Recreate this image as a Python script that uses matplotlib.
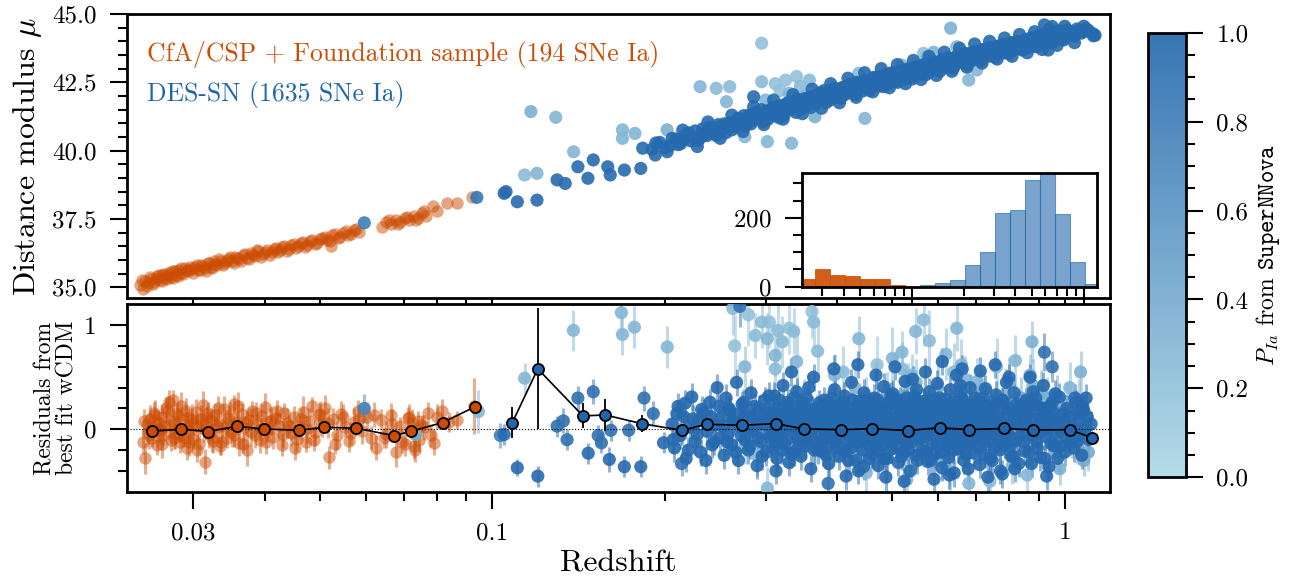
import numpy as np
import matplotlib
matplotlib.use("Agg")
import matplotlib.pyplot as plt
from matplotlib.colors import LinearSegmentedColormap, Normalize
from matplotlib.ticker import FixedLocator, MultipleLocator, FormatStrFormatter, FuncFormatter, NullFormatter

plt.rcParams['font.family'] = 'serif'
plt.rcParams['font.serif'] = ['cmr10']
plt.rcParams['mathtext.fontset'] = 'cm'
plt.rcParams['axes.unicode_minus'] = False
plt.rcParams['axes.formatter.use_mathtext'] = True

ORANGE = '#cc4c02'
BLUE = '#2166ac'
cmap = LinearSegmentedColormap.from_list('pia', ['#add8e6', BLUE])
norm = Normalize(0, 1)

# ---------------- CfA/CSP + Foundation (low-z) ----------------
# residual panel
cfa_z = [0.0245, 0.0247, 0.0249, 0.0250, 0.0252, 0.0254, 0.0255, 0.0257, 0.0259, 0.0260,
         0.0262, 0.0264, 0.0266, 0.0268, 0.0270, 0.0272, 0.0274, 0.0276, 0.0277, 0.0279,
         0.0281, 0.0283, 0.0284, 0.0286, 0.0288, 0.0290, 0.0292, 0.0294, 0.0296, 0.0298,
         0.0300, 0.0303, 0.0305, 0.0307, 0.0310, 0.0312, 0.0315, 0.0317, 0.0320, 0.0322,
         0.0325, 0.0328, 0.0331, 0.0334, 0.0337, 0.0340, 0.0344, 0.0347, 0.0350, 0.0354,
         0.0357, 0.0361, 0.0365, 0.0368, 0.0372, 0.0376, 0.0380, 0.0384, 0.0388, 0.0392,
         0.0396, 0.0400, 0.0404, 0.0408, 0.0413, 0.0418, 0.0423, 0.0428, 0.0433, 0.0438,
         0.0444, 0.0449, 0.0455, 0.0460, 0.0466, 0.0472, 0.0478, 0.0484, 0.0490, 0.0497,
         0.0503, 0.0510, 0.0518, 0.0527, 0.0535, 0.0544, 0.0553, 0.0562, 0.0572, 0.0582,
         0.0592, 0.0603, 0.0614, 0.0626, 0.0638, 0.0651, 0.0664, 0.0677, 0.0690, 0.0704,
         0.0712, 0.0722, 0.0733, 0.0745, 0.0752, 0.0770, 0.0790, 0.0815, 0.0840, 0.0868,
         0.0930,
         0.0246, 0.0251, 0.0256, 0.0261, 0.0265, 0.0269, 0.0273, 0.0278, 0.0282, 0.0287,
         0.0291, 0.0295, 0.0299, 0.0304, 0.0309, 0.0313, 0.0318, 0.0323, 0.0327, 0.0332,
         0.0336, 0.0342, 0.0348, 0.0353, 0.0359, 0.0366, 0.0373, 0.0379, 0.0386, 0.0394,
         0.0402, 0.0410, 0.0420, 0.0430, 0.0441, 0.0452, 0.0463, 0.0475, 0.0487, 0.0500,
         0.0515, 0.0531, 0.0548, 0.0566, 0.0585, 0.0620, 0.0645, 0.0668, 0.0695, 0.0716,
         0.0728, 0.0740, 0.0760, 0.0780, 0.0800]
cfa_res = [-0.12, -0.28, 0.05, -0.03, 0.10, -0.08, 0.02, 0.14, -0.15, 0.07,
           -0.01, 0.12, -0.06, 0.03, 0.18, 0.26, -0.10, 0.08, 0.28, -0.04,
           0.15, 0.01, -0.12, 0.22, -0.07, 0.05, -0.18, 0.11, -0.02, 0.09,
           -0.09, 0.17, 0.03, -0.14, 0.06, 0.23, -0.31, 0.12, -0.05, 0.08,
           -0.11, 0.14, 0.02, -0.16, 0.04, 0.19, -0.08, 0.10, -0.03, 0.24,
           0.07, -0.13, 0.15, 0.01, -0.20, 0.09, 0.18, -0.06, 0.05, -0.10,
           0.13, 0.21, -0.02, 0.08, -0.07, 0.11, 0.03, -0.15, 0.16, 0.06,
           -0.04, 0.12, -0.09, 0.02, 0.17, -0.12, 0.08, 0.22, -0.03, 0.14,
           0.05, 0.20, -0.27, 0.10, -0.06, 0.15, 0.02, -0.11, 0.07, 0.18,
           -0.02, 0.12, -0.08, -0.18, 0.09, -0.05, 0.14, -0.22, 0.03, -0.14,
           0.11, 0.06, -0.20, -0.10, 0.04, 0.16, -0.13, 0.18, 0.07, 0.09,
           0.22,
           0.08, -0.06, 0.16, 0.00, -0.14, 0.20, 0.04, -0.08, 0.13, -0.02,
           0.18, -0.12, 0.06, -0.20, 0.10, 0.00, 0.16, -0.08, 0.04, 0.20,
           -0.12, 0.02, 0.14, -0.06, 0.22, -0.14, 0.06, -0.03, 0.16, 0.00,
           -0.12, 0.08, 0.18, -0.05, 0.03, -0.18, 0.10, 0.00, -0.10, 0.15,
           0.06, -0.14, 0.12, -0.04, 0.10, 0.14, -0.08, 0.05, -0.12, 0.12,
           -0.16, 0.08, 0.02, -0.06, 0.12]
cfa_err = [0.12, 0.15, 0.10, 0.11, 0.13, 0.09, 0.12, 0.14, 0.10, 0.11,
           0.13, 0.12, 0.09, 0.10, 0.14, 0.12, 0.11, 0.13, 0.10, 0.15,
           0.09, 0.12, 0.11, 0.14, 0.10, 0.13, 0.12, 0.09, 0.11, 0.15,
           0.10, 0.12, 0.13, 0.11, 0.09, 0.14, 0.12, 0.10, 0.13, 0.11,
           0.12, 0.10, 0.14, 0.09, 0.11, 0.13, 0.10, 0.12, 0.14, 0.09,
           0.11, 0.13, 0.10, 0.12, 0.15, 0.11, 0.09, 0.12, 0.10, 0.13,
           0.11, 0.14, 0.10, 0.12, 0.12, 0.10, 0.13, 0.11, 0.09, 0.14,
           0.12, 0.10, 0.13, 0.11, 0.15, 0.10, 0.12, 0.09, 0.13, 0.11,
           0.12, 0.13, 0.11, 0.10, 0.14, 0.12, 0.09, 0.11, 0.13, 0.10,
           0.12, 0.14, 0.11, 0.12, 0.10, 0.13, 0.11, 0.14, 0.09, 0.12,
           0.10, 0.13, 0.11, 0.12, 0.10, 0.10, 0.12, 0.11, 0.10, 0.09,
           0.27,
           0.11, 0.13, 0.10, 0.12, 0.14, 0.10, 0.12, 0.11, 0.13, 0.09,
           0.12, 0.14, 0.10, 0.11, 0.13, 0.12, 0.10, 0.14, 0.11, 0.12,
           0.13, 0.10, 0.12, 0.11, 0.14, 0.09, 0.12, 0.13, 0.10, 0.11,
           0.12, 0.14, 0.10, 0.13, 0.11, 0.12, 0.10, 0.13, 0.11, 0.12,
           0.14, 0.10, 0.12, 0.11, 0.13, 0.12, 0.10, 0.14, 0.11, 0.12,
           0.13, 0.10, 0.12, 0.11, 0.12]

# Hubble diagram panel
cfa_z_top = [0.0242, 0.0245, 0.0247, 0.0250, 0.0253, 0.0256, 0.0259, 0.0262, 0.0265, 0.0268,
             0.0271, 0.0274, 0.0277, 0.0280, 0.0283, 0.0286, 0.0290, 0.0294, 0.0298, 0.0302,
             0.0306, 0.0310, 0.0314, 0.0318, 0.0322, 0.0326, 0.0330, 0.0335, 0.0340, 0.0345,
             0.0350, 0.0355, 0.0360, 0.0366, 0.0372, 0.0378, 0.0384, 0.0390, 0.0397, 0.0404,
             0.0411, 0.0418, 0.0425, 0.0433, 0.0441, 0.0449, 0.0457, 0.0466, 0.0475, 0.0484,
             0.0494, 0.0504, 0.0514, 0.0525, 0.0536, 0.0548, 0.0560, 0.0572, 0.0585, 0.0640,
             0.0652, 0.0665, 0.0678, 0.0690, 0.0703, 0.0716, 0.0728, 0.0740, 0.0752, 0.0765,
             0.0788, 0.0800, 0.0832, 0.0867, 0.0919, 0.0522,
             0.0244, 0.0249, 0.0252, 0.0255, 0.0258, 0.0261, 0.0264, 0.0267, 0.0270, 0.0273,
             0.0276, 0.0279, 0.0282, 0.0285, 0.0288, 0.0292, 0.0296, 0.0300, 0.0304, 0.0308,
             0.0312, 0.0316, 0.0320, 0.0324, 0.0328, 0.0333, 0.0338, 0.0343, 0.0348, 0.0353,
             0.0358, 0.0363, 0.0369, 0.0375, 0.0381, 0.0387, 0.0394, 0.0401, 0.0408, 0.0415,
             0.0422, 0.0429, 0.0437, 0.0445, 0.0453, 0.0462, 0.0471, 0.0480, 0.0489, 0.0499,
             0.0509, 0.0520, 0.0531, 0.0542, 0.0554, 0.0566, 0.0578, 0.0660, 0.0684, 0.0710,
             0.0735, 0.0760]
cfa_mu_top = [35.10, 34.95, 35.25, 35.15, 35.30, 35.20, 35.40, 35.28, 35.45, 35.35,
              35.50, 35.38, 35.60, 35.45, 35.62, 35.52, 35.70, 35.58, 35.66, 35.75,
              35.62, 35.80, 35.70, 35.88, 35.76, 35.95, 35.82, 35.98, 35.90, 36.05,
              35.95, 36.12, 36.02, 36.18, 36.08, 36.25, 36.15, 36.32, 36.22, 36.38,
              36.28, 36.45, 36.35, 36.52, 36.42, 36.58, 36.50, 36.65, 36.55, 36.72,
              36.62, 36.80, 36.72, 36.90, 36.82, 37.00, 36.92, 37.10, 37.02, 37.20,
              37.38, 37.30, 37.48, 37.38, 37.55, 37.45, 37.62, 37.55, 37.72, 37.62,
              37.98, 37.80, 38.10, 38.10, 38.30, 36.50,
              35.28, 35.05, 35.38, 35.12, 35.30, 35.45, 35.22, 35.50, 35.30, 35.55,
              35.35, 35.58, 35.40, 35.70, 35.48, 35.62, 35.75, 35.52, 35.82, 35.65,
              35.78, 35.60, 35.90, 35.70, 35.85, 36.02, 35.80, 35.98, 36.10, 35.88,
              36.08, 35.95, 36.22, 36.05, 36.20, 36.35, 36.12, 36.30, 36.18, 36.42,
              36.30, 36.48, 36.32, 36.55, 36.45, 36.62, 36.48, 36.70, 36.58, 36.75,
              36.85, 36.70, 36.95, 36.85, 37.05, 36.95, 37.15, 37.45, 37.30, 37.58,
              37.45, 37.78]

# ---------------- DES-SN ----------------
# Hubble diagram panel: main band (high P_Ia)
des_band_z = [0.190, 0.196, 0.204, 0.209, 0.213, 0.218, 0.222, 0.226, 0.231, 0.235,
              0.239, 0.244, 0.248, 0.252, 0.256, 0.260, 0.265, 0.269, 0.273, 0.277,
              0.281, 0.285, 0.289, 0.293, 0.297, 0.301, 0.305, 0.309, 0.313, 0.317,
              0.321, 0.326, 0.330, 0.334, 0.339, 0.343, 0.347, 0.351, 0.356, 0.360,
              0.365, 0.369, 0.374, 0.378, 0.383, 0.387, 0.392, 0.396, 0.401, 0.406,
              0.411, 0.416, 0.421, 0.426, 0.431, 0.436, 0.441, 0.446, 0.451, 0.456,
              0.461, 0.467, 0.472, 0.477, 0.483, 0.488, 0.494, 0.499, 0.505, 0.511,
              0.517, 0.523, 0.529, 0.535, 0.541, 0.547, 0.553, 0.559, 0.565, 0.572,
              0.578, 0.585, 0.591, 0.598, 0.605, 0.611, 0.618, 0.625, 0.632, 0.639,
              0.646, 0.653, 0.661, 0.668, 0.675, 0.683, 0.690, 0.698, 0.706, 0.714,
              0.722, 0.730, 0.738, 0.746, 0.754, 0.763, 0.771, 0.780, 0.789, 0.798,
              0.807, 0.816, 0.825, 0.834, 0.843, 0.852, 0.862, 0.871, 0.881, 0.891,
              0.901, 0.911, 0.921, 0.931, 0.942, 0.952, 0.963, 0.974, 0.985, 0.996,
              1.010, 1.030, 1.050, 1.070, 1.090, 1.120,
              0.193, 0.200, 0.206, 0.211, 0.216, 0.220, 0.224, 0.229, 0.233, 0.237,
              0.241, 0.246, 0.250, 0.254, 0.258, 0.262, 0.267, 0.271, 0.275, 0.279,
              0.283, 0.287, 0.291, 0.295, 0.299, 0.303, 0.307, 0.311, 0.315, 0.319,
              0.323, 0.328, 0.332, 0.336, 0.341, 0.345, 0.349, 0.353, 0.358, 0.362,
              0.367, 0.371, 0.376, 0.380, 0.385, 0.389, 0.394, 0.398, 0.403, 0.408,
              0.413, 0.418, 0.423, 0.428, 0.433, 0.438, 0.443, 0.448, 0.453, 0.458,
              0.464, 0.469, 0.474, 0.480, 0.485, 0.491, 0.496, 0.502, 0.508, 0.514,
              0.520, 0.526, 0.532, 0.538, 0.544, 0.550, 0.556, 0.562, 0.568, 0.575,
              0.581, 0.588, 0.594, 0.601, 0.608, 0.614, 0.621, 0.628, 0.635, 0.642,
              0.650, 0.657, 0.664, 0.672, 0.679, 0.687, 0.694, 0.702, 0.710, 0.718,
              0.726, 0.734, 0.742, 0.750, 0.759, 0.767, 0.776, 0.784, 0.793, 0.802,
              0.811, 0.820, 0.829, 0.838, 0.848, 0.857, 0.866, 0.876, 0.886, 0.896,
              0.906, 0.916, 0.926, 0.937, 0.947, 0.958, 0.969, 0.980, 0.991, 1.000,
              1.020, 1.040, 1.060, 1.080, 1.100, 1.130,
              0.215, 0.228, 0.238, 0.250, 0.262, 0.274, 0.286, 0.298, 0.310, 0.322,
              0.335, 0.348, 0.362, 0.376, 0.390, 0.404, 0.418, 0.432, 0.447, 0.462,
              0.478, 0.494, 0.510, 0.527, 0.544, 0.561, 0.579, 0.597, 0.616, 0.635,
              0.655, 0.675, 0.696, 0.717, 0.739, 0.762, 0.785, 0.809, 0.834, 0.860,
              0.886, 0.913, 0.941, 0.970, 1.000, 1.040, 1.080]
des_band_mu = [40.05, 40.30, 40.18, 40.42, 40.25, 40.58, 40.36, 40.72, 40.48, 40.62,
               40.85, 40.70, 40.95, 40.78, 40.66, 41.02, 40.88, 41.18, 41.05, 40.92,
               41.30, 41.12, 41.40, 41.22, 41.05, 41.45, 41.30, 41.58, 41.38, 41.20,
               41.66, 41.48, 41.72, 41.55, 41.40, 41.82, 41.62, 41.90, 41.75, 41.58,
               42.00, 41.82, 42.12, 41.92, 41.76, 42.18, 42.00, 42.28, 42.08, 41.92,
               42.32, 42.15, 42.42, 42.22, 42.05, 42.48, 42.30, 42.55, 42.35, 42.20,
               42.62, 42.42, 42.70, 42.50, 42.34, 42.78, 42.58, 42.85, 42.66, 42.50,
               42.92, 42.72, 42.98, 42.80, 42.62, 43.05, 42.85, 43.10, 42.92, 42.78,
               43.18, 43.00, 43.25, 43.06, 42.90, 43.32, 43.12, 43.38, 43.18, 43.02,
               43.44, 43.25, 43.50, 43.32, 43.15, 43.56, 43.38, 43.62, 43.45, 43.30,
               43.70, 43.52, 43.76, 43.58, 43.42, 43.82, 43.65, 43.88, 43.70, 43.55,
               43.95, 43.78, 44.00, 43.82, 43.68, 44.05, 43.88, 44.12, 43.95, 43.80,
               44.20, 44.02, 44.28, 44.08, 43.94, 44.32, 44.15, 44.38, 44.20, 44.05,
               44.42, 44.25, 44.45, 44.30, 44.45, 44.28,
               40.28, 40.10, 40.45, 40.22, 40.40, 40.65, 40.50, 40.38, 40.80, 40.55,
               40.72, 40.55, 40.88, 40.98, 40.82, 40.76, 41.10, 40.95, 41.28, 41.10,
               40.98, 41.30, 41.22, 41.50, 41.25, 41.15, 41.50, 41.28, 41.62, 41.45,
               41.30, 41.75, 41.50, 41.68, 41.88, 41.50, 41.75, 41.62, 41.95, 41.80,
               41.70, 42.05, 41.85, 42.20, 41.98, 41.85, 42.25, 42.10, 41.95, 42.30,
               42.05, 42.38, 42.25, 42.12, 42.50, 42.35, 42.18, 42.55, 42.45, 42.30,
               42.68, 42.52, 42.36, 42.72, 42.60, 42.45, 42.82, 42.70, 42.55, 42.90,
               42.78, 42.62, 42.95, 42.88, 42.72, 43.05, 42.95, 42.80, 43.15, 43.05,
               42.88, 43.20, 43.12, 42.98, 43.28, 43.20, 43.05, 43.38, 43.28, 43.12,
               43.45, 43.35, 43.20, 43.55, 43.45, 43.28, 43.60, 43.52, 43.38, 43.68,
               43.60, 43.45, 43.75, 43.66, 43.52, 43.82, 43.74, 43.58, 43.90, 43.80,
               43.66, 43.96, 43.88, 43.72, 44.02, 43.94, 43.78, 44.08, 44.00, 43.85,
               44.14, 44.10, 43.92, 44.22, 44.15, 44.00, 44.28, 44.22, 44.08, 44.36,
               44.35, 44.18, 44.40, 44.36, 44.40, 44.22,
               40.75, 40.15, 41.05, 40.45, 41.30, 40.70, 41.60, 40.95, 41.85, 41.15,
               42.05, 41.35, 42.25, 41.55, 42.45, 41.75, 42.65, 41.95, 42.85, 42.15,
               43.00, 42.30, 43.15, 42.45, 43.30, 42.60, 43.45, 42.75, 43.60, 42.90,
               43.75, 43.05, 43.90, 43.20, 44.00, 43.35, 44.12, 43.45, 44.25, 43.58,
               44.35, 43.70, 44.45, 43.85, 44.55, 43.95, 44.55]
P_BAND = 0.97

# Hubble diagram panel: low-z DES and outliers
des_top_z = [0.0597, 0.0939, 0.1048, 0.1056, 0.1105, 0.1196, 0.1297, 0.1340, 0.1410, 0.1468,
             0.1500, 0.1590, 0.1606, 0.1700, 0.1816, 0.1830, 0.1925, 0.2019, 0.2860, 0.3958,
             0.9215, 0.9510, 1.0770, 1.1220, 0.9360, 0.1138, 0.1196, 0.1386, 0.1167, 0.1290,
             0.1687, 0.1687, 0.1774, 0.2019, 0.2306, 0.2460, 0.2597, 0.2564, 0.2954, 0.2954,
             0.3000, 0.3252, 0.3400, 0.3580, 0.3300, 0.3660, 0.3022, 0.3331, 0.2760, 0.4475,
             0.4366, 0.5667, 0.5195, 0.5400, 0.6320, 0.6475, 0.6797, 0.7020, 0.8910, 1.0250,
             0.3180, 0.3450, 0.3520, 0.3120, 0.5750, 0.5900]
des_top_mu = [37.36, 38.29, 38.44, 38.50, 38.13, 38.19, 38.93, 38.80, 39.41, 38.99,
              39.66, 39.41, 39.11, 39.29, 39.35, 40.09, 39.84, 39.96, 41.97, 41.94,
              44.60, 44.54, 44.41, 44.20, 43.68, 39.11, 39.17, 39.96, 41.43, 41.22,
              40.76, 40.45, 40.63, 40.76, 42.34, 42.28, 42.34, 41.79, 43.93, 42.52,
              41.85, 42.58, 42.71, 42.58, 42.10, 41.24, 40.33, 40.27, 40.51, 41.18,
              42.83, 43.56, 43.13, 42.95, 44.48, 43.80, 42.58, 42.95, 43.93, 44.29,
              42.20, 42.35, 42.00, 42.45, 43.45, 43.60]
des_top_p = [0.80, 0.85, 0.95, 0.95, 0.95, 0.95, 0.95, 0.95, 0.95, 0.95,
             0.95, 0.95, 0.95, 0.95, 0.95, 0.95, 0.95, 0.95, 0.95, 0.95,
             0.95, 0.95, 0.95, 0.95, 0.95, 0.25, 0.30, 0.30, 0.35, 0.30,
             0.30, 0.30, 0.30, 0.35, 0.30, 0.25, 0.25, 0.30, 0.20, 0.25,
             0.30, 0.20, 0.20, 0.25, 0.30, 0.35, 0.30, 0.30, 0.30, 0.30,
             0.25, 0.20, 0.25, 0.30, 0.35, 0.30, 0.30, 0.30, 0.30, 0.30,
             0.20, 0.25, 0.30, 0.20, 0.25, 0.30]

# residual panel: dense core (high P_Ia)
des_core_z = [0.206, 0.208, 0.211, 0.213, 0.216, 0.218, 0.221, 0.223, 0.226, 0.229,
              0.231, 0.234, 0.237, 0.240, 0.242, 0.245, 0.247, 0.250, 0.252, 0.254,
              0.256, 0.258, 0.260, 0.262, 0.264, 0.267, 0.269, 0.271, 0.273, 0.276,
              0.278, 0.280, 0.283, 0.285, 0.288, 0.290, 0.292, 0.295, 0.297, 0.299,
              0.301, 0.303, 0.305, 0.307, 0.309, 0.311, 0.312, 0.314, 0.316, 0.318,
              0.320, 0.322, 0.324, 0.326, 0.328, 0.330, 0.332, 0.334, 0.336, 0.338,
              0.340, 0.342, 0.344, 0.346, 0.348, 0.350, 0.352, 0.354, 0.356, 0.358,
              0.360, 0.362, 0.364, 0.366, 0.368, 0.370, 0.372, 0.374, 0.313, 0.333,
              0.357, 0.376, 0.378, 0.380, 0.382, 0.384, 0.387, 0.389, 0.391, 0.393,
              0.396, 0.398, 0.400, 0.403, 0.405, 0.407, 0.410, 0.412, 0.414, 0.417,
              0.419, 0.421, 0.424, 0.426, 0.429, 0.431, 0.433, 0.436, 0.438, 0.441,
              0.443, 0.446, 0.448, 0.451, 0.453, 0.456, 0.458, 0.395, 0.415, 0.435,
              0.445, 0.460, 0.462, 0.465, 0.467, 0.470, 0.472, 0.475, 0.477, 0.480,
              0.483, 0.485, 0.488, 0.490, 0.493, 0.496, 0.498, 0.501, 0.504, 0.506,
              0.509, 0.512, 0.515, 0.517, 0.520, 0.523, 0.526, 0.529, 0.531, 0.534,
              0.537, 0.540, 0.543, 0.546, 0.549, 0.552, 0.555, 0.558, 0.468, 0.487,
              0.505, 0.524, 0.542, 0.478, 0.513, 0.551, 0.561, 0.564, 0.567, 0.570,
              0.573, 0.576, 0.580, 0.583, 0.586, 0.589, 0.593, 0.596, 0.599, 0.603,
              0.606, 0.610, 0.613, 0.617, 0.620, 0.624, 0.627, 0.631, 0.634, 0.638,
              0.641, 0.645, 0.649, 0.652, 0.656, 0.660, 0.664, 0.667, 0.671, 0.675,
              0.679, 0.683, 0.686, 0.571, 0.591, 0.611, 0.629, 0.647, 0.662, 0.678,
              0.600, 0.640, 0.585, 0.655, 0.690, 0.694, 0.698, 0.702, 0.706, 0.710,
              0.715, 0.719, 0.723, 0.727, 0.732, 0.736, 0.740, 0.745, 0.749, 0.754,
              0.758, 0.763, 0.767, 0.772, 0.777, 0.781, 0.786, 0.791, 0.796, 0.801,
              0.806, 0.811, 0.816, 0.821, 0.826, 0.831, 0.836, 0.840, 0.712, 0.734,
              0.756, 0.778, 0.799, 0.818, 0.845, 0.851, 0.857, 0.863, 0.869, 0.875,
              0.881, 0.887, 0.893, 0.899, 0.906, 0.912, 0.918, 0.925, 0.931, 0.938,
              0.945, 0.951, 0.958, 0.965, 0.972, 0.979, 0.986, 0.993, 1.000, 1.008,
              1.015, 1.022, 0.870, 0.930, 1.030, 1.038, 1.046, 1.054, 1.062, 1.071,
              1.080, 1.090, 1.100, 1.112,
              0.207, 0.210, 0.214, 0.217, 0.220, 0.224, 0.228, 0.232, 0.236, 0.241,
              0.244, 0.249, 0.253, 0.257, 0.259, 0.263, 0.266, 0.270, 0.272, 0.275,
              0.279, 0.282, 0.284, 0.287, 0.291, 0.294, 0.296, 0.300, 0.302, 0.304,
              0.306, 0.308, 0.310, 0.313, 0.315, 0.317, 0.319, 0.321, 0.323, 0.325,
              0.327, 0.329, 0.331, 0.333, 0.335, 0.337, 0.339, 0.341, 0.343, 0.345,
              0.349, 0.353, 0.357, 0.361, 0.365, 0.369, 0.371, 0.373, 0.377, 0.379,
              0.381, 0.383, 0.386, 0.388, 0.390, 0.392, 0.394, 0.397, 0.399, 0.402,
              0.404, 0.406, 0.409, 0.411, 0.413, 0.416, 0.418, 0.420, 0.423, 0.425,
              0.428, 0.430, 0.432, 0.435, 0.437, 0.440, 0.444, 0.449, 0.452, 0.457,
              0.461, 0.464, 0.466, 0.469, 0.471, 0.474, 0.476, 0.479, 0.482, 0.484,
              0.487, 0.489, 0.492, 0.495, 0.497, 0.500, 0.503, 0.507, 0.510, 0.514,
              0.516, 0.519, 0.522, 0.525, 0.528, 0.530, 0.533, 0.536, 0.539, 0.542,
              0.545, 0.548, 0.550, 0.553, 0.556, 0.559, 0.562, 0.565, 0.568, 0.572,
              0.575, 0.578, 0.581, 0.584, 0.588, 0.591, 0.594, 0.598, 0.601, 0.604,
              0.608, 0.611, 0.615, 0.618, 0.622, 0.625, 0.629, 0.632, 0.636, 0.639,
              0.643, 0.647, 0.650, 0.654, 0.658, 0.661, 0.665, 0.669, 0.673, 0.677,
              0.681, 0.684, 0.688, 0.657, 0.692, 0.696, 0.700, 0.704, 0.708, 0.713,
              0.717, 0.721, 0.725, 0.730, 0.734, 0.738, 0.743, 0.747, 0.752, 0.756,
              0.761, 0.765, 0.770, 0.775, 0.779, 0.784, 0.788, 0.793, 0.798, 0.803,
              0.808, 0.813, 0.819, 0.824, 0.829, 0.838, 0.848, 0.854, 0.860, 0.866,
              0.872, 0.878, 0.884, 0.890, 0.896, 0.903, 0.909, 0.915, 0.922, 0.928,
              0.935, 0.941, 0.948, 0.955, 0.962, 0.969, 0.976, 0.983, 0.997, 1.012,
              1.034, 1.042, 1.050, 1.058, 1.066, 1.075, 1.085, 1.095]
des_core_res = [0.05, -0.18, 0.22, -0.06, 0.12, -0.28, 0.02, 0.31, -0.12, 0.08,
                -0.22, 0.16, -0.02, 0.26, -0.15, 0.04, 0.40, -0.08, 0.12, -0.25,
                0.30, -0.04, 0.18, -0.15, 0.07, 0.45, -0.30, 0.02, 0.24, -0.10,
                0.14, -0.20, 0.35, -0.02, 0.09, -0.35, 0.20, -0.12, 0.05, 0.28,
                -0.22, 0.11, -0.05, 0.15, -0.18, 0.32, 0.03, -0.28, 0.21, -0.07,
                0.10, 0.42, -0.14, 0.00, 0.26, -0.32, 0.08, 0.18, -0.22, 0.05,
                0.36, -0.10, 0.13, -0.26, 0.22, 0.02, -0.16, 0.30, -0.04, 0.11,
                -0.38, 0.19, 0.50, -0.12, 0.06, -0.20, 0.25, -0.02, -0.40, 0.55,
                0.40, 0.08, -0.22, 0.28, -0.05, 0.14, -0.33, 0.20, 0.02, -0.14,
                0.38, -0.08, 0.12, -0.26, 0.24, 0.05, -0.18, 0.32, -0.02, 0.16,
                -0.30, 0.09, 0.45, -0.12, 0.21, -0.06, 0.13, -0.40, 0.27, 0.01,
                -0.20, 0.35, -0.10, 0.18, 0.06, -0.28, 0.23, 0.58, -0.45, 0.62,
                -0.36, 0.10, -0.24, 0.30, -0.08, 0.17, -0.35, 0.04, 0.22, -0.15,
                0.41, -0.03, 0.13, -0.28, 0.26, 0.07, -0.19, 0.34, -0.11, 0.02,
                0.19, -0.32, 0.28, -0.06, 0.11, -0.22, 0.46, 0.05, -0.14, 0.24,
                -0.40, 0.15, -0.02, 0.31, -0.25, 0.09, 0.20, -0.09, 0.52, -0.46,
                0.60, -0.50, 0.48, -0.02, 0.00, 0.38, 0.14, -0.20, 0.27, -0.06,
                0.09, -0.31, 0.36, 0.01, -0.13, 0.21, -0.24, 0.12, 0.44, -0.04,
                0.18, -0.37, 0.06, 0.29, -0.16, 0.10, -0.27, 0.38, -0.01, 0.16,
                -0.42, 0.23, 0.03, -0.19, 0.32, -0.09, 0.12, -0.30, 0.25, 0.07,
                -0.14, 0.40, -0.05, 0.55, -0.48, 0.65, -0.44, 0.52, 0.58, -0.38,
                0.02, -0.08, 0.08, 0.05, 0.11, -0.23, 0.30, -0.07, 0.16, -0.34,
                0.04, 0.24, -0.12, 0.39, -0.02, 0.14, -0.28, 0.21, 0.06, -0.18,
                0.33, -0.09, 0.10, -0.40, 0.27, 0.01, -0.15, 0.45, -0.05, 0.19,
                -0.26, 0.08, 0.35, -0.11, 0.13, -0.33, 0.22, 0.03, 0.56, -0.46,
                0.62, -0.43, 0.50, -0.38, 0.09, -0.21, 0.28, -0.04, 0.15, -0.33,
                0.36, 0.02, -0.12, 0.22, -0.27, 0.12, 0.42, -0.07, 0.18, -0.36,
                0.06, 0.26, -0.16, 0.10, -0.28, 0.31, -0.02, 0.14, -0.22, 0.20,
                0.04, -0.12, 0.50, -0.45, 0.12, -0.18, 0.25, -0.06, 0.08, -0.25,
                0.18, 0.30, -0.10, 0.05,
                -0.10, 0.15, -0.02, 0.25, -0.20, 0.10, -0.05, 0.19, -0.30, 0.12,
                -0.12, 0.22, 0.03, -0.12, 0.20, 0.08, -0.22, 0.15, -0.06, 0.26,
                0.00, -0.16, 0.12, 0.22, -0.08, 0.06, -0.26, 0.16, 0.04, 0.32,
                -0.08, 0.10, 0.20, -0.14, 0.05, 0.28, -0.02, -0.20, 0.15, 0.06,
                -0.10, 0.22, 0.12, -0.24, 0.02, 0.30, -0.06, 0.18, -0.16, 0.08,
                0.25, -0.10, 0.14, 0.00, -0.20, 0.20, 0.10, -0.12, -0.12, 0.18,
                0.02, -0.25, 0.25, 0.08, -0.08, 0.30, 0.12, -0.18, 0.04, 0.20,
                -0.10, -0.02, 0.10, 0.26, -0.22, 0.06, 0.16, -0.06, -0.18, 0.28,
                0.00, 0.12, -0.30, 0.08, -0.12, 0.22, 0.14, -0.08, 0.28, -0.16,
                -0.05, 0.22, -0.15, 0.10, 0.28, -0.22, 0.14, -0.04, 0.06, -0.28,
                0.20, 0.02, 0.12, -0.12, 0.32, -0.06, 0.08, 0.24, -0.18, 0.04,
                0.16, -0.26, 0.26, -0.08, 0.12, 0.30, -0.20, 0.02, 0.18, -0.12,
                0.08, 0.14, -0.02, -0.30, 0.26, 0.10, -0.08, 0.16, 0.04, -0.22,
                0.24, -0.02, 0.12, -0.30, 0.28, 0.06, 0.18, -0.14, 0.02, 0.30,
                -0.22, 0.10, -0.06, 0.20, 0.04, -0.12, 0.14, -0.04, 0.26, -0.20,
                0.08, -0.10, 0.22, 0.12, -0.16, 0.30, -0.06, 0.16, -0.24, 0.02,
                0.22, -0.12, 0.10, 0.42, 0.20, -0.10, 0.06, 0.26, -0.18, 0.12,
                -0.04, 0.30, -0.24, 0.08, 0.18, -0.12, 0.02, -0.30, 0.24, 0.10,
                -0.06, 0.16, -0.20, 0.04, 0.28, -0.10, 0.12, -0.02, 0.20, -0.16,
                0.06, -0.26, 0.14, 0.24, -0.08, 0.02, -0.12, 0.18, 0.04, -0.22,
                0.26, -0.06, 0.10, 0.30, -0.18, 0.06, -0.02, 0.20, -0.28, 0.12,
                0.00, 0.22, -0.14, 0.16, 0.34, -0.04, 0.08, -0.16, 0.12, -0.08,
                0.02, 0.30, -0.12, 0.16, -0.04, 0.22, 0.00, 0.12]
P_CORE = 0.97
ERR_CORE = 0.13

# residual panel: low-z DES and outliers
des_res_z = [0.0597, 0.0733, 0.0945, 0.1032, 0.1048, 0.1105, 0.1200, 0.1297, 0.1330, 0.1350,
             0.1410, 0.1470, 0.1500, 0.1530, 0.1550, 0.1600, 0.1610, 0.1700, 0.1816, 0.1840,
             0.1730, 0.1910, 0.1990, 0.1138, 0.1385, 0.1687, 0.1770, 0.2020, 0.1680, 0.2630,
             0.2706, 0.2954, 0.3047, 0.2879, 0.3022, 0.3120, 0.3120, 0.3300, 0.3360, 0.3617,
             0.3640, 0.4366, 0.5195, 0.5667, 0.5490, 0.6475, 0.8767, 0.9215, 0.9510, 0.5400,
             0.7020, 0.3960, 0.2760, 0.3210, 0.8700, 1.0660, 0.3022, 0.6800, 0.2760, 0.3660,
             0.7020, 1.0500, 0.9600, 0.3860, 0.2140, 0.3900, 0.5320, 0.4500, 0.6100, 0.9900,
             1.0300, 1.0800, 0.9300, 0.8100, 0.7400, 0.2900, 0.3500, 0.4200, 1.1000, 1.0100,
             0.2650, 0.2800, 0.3150, 0.3400, 0.3700, 0.5000, 0.5800, 0.6200, 0.6600, 0.8200,
             0.4100, 0.4300, 0.4700, 0.4900, 0.5200, 0.5500, 0.6000, 0.6400, 0.6700, 0.7200,
             0.7600, 0.8000, 0.8400, 0.8800, 0.9100, 0.9700, 1.0200, 1.0600, 0.4500, 0.5300,
             0.6300, 0.7400, 0.8600, 0.9800, 1.0800]
des_res = [0.20, -0.05, 0.17, -0.06, -0.05, -0.37, -0.45, 0.03, 0.08, -0.10,
           0.30, -0.23, 0.36, -0.06, -0.13, -0.29, -0.01, -0.36, -0.36, 0.30,
           -0.01, 0.15, -0.13, 0.49, 0.95, 0.91, 0.98, 0.79, 1.12, 1.16,
           1.18, 1.03, 1.03, 0.90, 0.87, 0.71, 0.58, 0.97, 0.94, 1.13,
           1.03, 0.87, 0.74, 1.05, 0.94, 0.97, 0.84, 0.74, 0.60, 0.52,
           0.46, 0.52, 0.60, 0.84, 0.52, 0.55, -0.565, -0.52, -0.18, -0.17,
           -0.18, -0.18, -0.21, -0.52, -0.33, 0.19, 0.44, 0.30, -0.30, 0.05,
           -0.10, 0.12, 0.30, -0.35, 0.22, -0.25, 0.28, -0.15, -0.22, 0.25,
           0.80, 1.10, 0.95, 0.65, 0.75, 0.68, 0.85, 0.72, 0.62, 0.66,
           0.55, 0.40, 0.62, 0.35, 0.58, 0.45, 0.40, 0.55, 0.48, 0.38,
           0.60, 0.45, 0.30, 0.42, 0.35, 0.32, 0.40, 0.28, -0.42, -0.48,
           -0.40, -0.50, -0.44, -0.38, -0.30]
des_res_err = [0.14, 0.12, 0.21, 0.12, 0.10, 0.08, 0.10, 0.10, 0.12, 0.10,
               0.12, 0.10, 0.12, 0.10, 0.10, 0.12, 0.10, 0.10, 0.10, 0.12,
               0.10, 0.12, 0.10, 0.15, 0.20, 0.20, 0.20, 0.20, 0.20, 0.25,
               0.20, 0.25, 0.25, 0.22, 0.25, 0.20, 0.20, 0.25, 0.22, 0.25,
               0.25, 0.22, 0.20, 0.25, 0.22, 0.22, 0.20, 0.18, 0.15, 0.20,
               0.22, 0.20, 0.20, 0.25, 0.20, 0.20, 0.20, 0.20, 0.15, 0.15,
               0.15, 0.15, 0.15, 0.15, 0.12, 0.15, 0.20, 0.20, 0.18, 0.20,
               0.18, 0.20, 0.20, 0.18, 0.20, 0.20, 0.20, 0.20, 0.18, 0.20,
               0.30, 0.30, 0.30, 0.30, 0.30, 0.30, 0.30, 0.25, 0.25, 0.25,
               0.25, 0.22, 0.28, 0.20, 0.26, 0.22, 0.25, 0.28, 0.22, 0.20,
               0.28, 0.24, 0.20, 0.25, 0.22, 0.20, 0.25, 0.20, 0.18, 0.20,
               0.18, 0.20, 0.18, 0.16, 0.15]
des_res_p = [0.75, 0.40, 0.30, 0.80, 0.95, 0.95, 0.95, 0.90, 0.90, 0.90,
             0.90, 0.95, 0.90, 0.90, 0.90, 0.95, 0.90, 0.95, 0.95, 0.90,
             0.90, 0.90, 0.95, 0.30, 0.30, 0.30, 0.30, 0.30, 0.30, 0.25,
             0.90, 0.25, 0.20, 0.25, 0.30, 0.30, 0.25, 0.20, 0.25, 0.20,
             0.25, 0.30, 0.30, 0.25, 0.30, 0.30, 0.35, 0.90, 0.90, 0.30,
             0.30, 0.30, 0.30, 0.25, 0.35, 0.35, 0.30, 0.30, 0.30, 0.30,
             0.30, 0.35, 0.35, 0.90, 0.90, 0.30, 0.30, 0.30, 0.35, 0.35,
             0.40, 0.35, 0.30, 0.35, 0.30, 0.30, 0.30, 0.35, 0.40, 0.35,
             0.20, 0.20, 0.25, 0.30, 0.25, 0.30, 0.25, 0.30, 0.30, 0.30,
             0.25, 0.30, 0.20, 0.35, 0.25, 0.30, 0.35, 0.25, 0.30, 0.35,
             0.25, 0.30, 0.40, 0.30, 0.35, 0.40, 0.30, 0.40, 0.30, 0.25,
             0.30, 0.25, 0.30, 0.35, 0.40]

# binned residuals
cfa_bin_z = [0.0254, 0.0286, 0.0318, 0.0358, 0.0398, 0.0459, 0.0507, 0.0578, 0.0672, 0.0721, 0.0818, 0.0933]
cfa_bin_res = [-0.019, 0.000, -0.022, 0.028, 0.003, -0.010, 0.019, 0.010, -0.061, -0.019, 0.064, 0.217]
cfa_bin_err = [0.03, 0.03, 0.03, 0.03, 0.03, 0.03, 0.03, 0.03, 0.03, 0.03, 0.04, 0.05]
des_bin_z = [0.1083, 0.1200, 0.1439, 0.1574, 0.1823, 0.2140, 0.2371, 0.2724, 0.3127, 0.3500,
             0.4066, 0.4604, 0.5320, 0.6046, 0.6814, 0.7847, 0.8816, 1.020, 1.118]
des_bin_res = [0.064, 0.58, 0.128, 0.137, 0.054, -0.010, 0.048, 0.038, 0.054, 0.003,
               -0.004, 0.006, -0.013, 0.015, -0.004, 0.009, -0.007, -0.004, -0.083]
des_bin_err = [0.15, 0.58, 0.12, 0.15, 0.08, 0.03, 0.03, 0.02, 0.02, 0.02,
               0.02, 0.02, 0.02, 0.02, 0.02, 0.02, 0.02, 0.03, 0.05]

# redshift histogram (inset), log bins from 0.0223 to 1.255
cfa_counts = [21, 50, 35, 32, 21, 21, 6, 0, 0, 0, 0, 0, 0, 0, 0, 0, 0, 0, 0, 0]
des_counts = [0, 0, 0, 0, 0, 0, 0, 0, 6, 12, 20, 64, 102, 213, 222, 310, 345, 210, 73, 9]
hist_edges = np.geomspace(0.0223, 1.255, len(cfa_counts) + 1)

# ---------------- figure ----------------
fig = plt.figure(figsize=(12.96, 5.86), dpi=100)
ax_mu = fig.add_axes([0.0982, 0.4910, 0.7583, 0.4852])
ax_res = fig.add_axes([0.0982, 0.1609, 0.7583, 0.3198], sharex=ax_mu)
cax = fig.add_axes([0.886, 0.1855, 0.0289, 0.7587])

# top: Hubble diagram
ax_mu.scatter(cfa_z_top, cfa_mu_top, s=80, color=ORANGE, alpha=0.5, lw=0, zorder=2)
top_z = np.concatenate([des_band_z, des_top_z])
top_mu = np.concatenate([des_band_mu, des_top_mu])
top_p = np.concatenate([np.full(len(des_band_z), P_BAND), des_top_p])
o = np.argsort(top_p, kind='stable')
sc = ax_mu.scatter(top_z[o], top_mu[o], c=top_p[o], cmap=cmap, norm=norm,
                   s=90, alpha=0.9, lw=0, zorder=3)

ax_mu.text(0.02, 0.856, 'CfA/CSP + Foundation sample (194 SNe Ia)', color=ORANGE,
           fontsize=18.5, transform=ax_mu.transAxes, va='center', ha='left')
ax_mu.text(0.02, 0.717, 'DES-SN (1635 SNe Ia)', color=BLUE,
           fontsize=18.5, transform=ax_mu.transAxes, va='center', ha='left')

ax_mu.set_ylim(34.6, 45.0)
ax_mu.yaxis.set_major_locator(MultipleLocator(2.5))
ax_mu.yaxis.set_minor_locator(MultipleLocator(0.5))
ax_mu.yaxis.set_major_formatter(FormatStrFormatter('%.1f'))
ax_mu.set_ylabel(r'Distance modulus $\mu$', fontsize=23, labelpad=6)
ax_mu.tick_params(labelbottom=False)

# bottom: residuals
ax_res.vlines(cfa_z, np.array(cfa_res) - np.array(cfa_err), np.array(cfa_res) + np.array(cfa_err),
              color=ORANGE, alpha=0.45, lw=2.2, zorder=1)
ax_res.scatter(cfa_z, cfa_res, s=80, color=ORANGE, alpha=0.5, lw=0, zorder=2)

res_z = np.concatenate([des_core_z, des_res_z])
res_v = np.concatenate([des_core_res, des_res])
res_e = np.concatenate([np.full(len(des_core_z), ERR_CORE), des_res_err])
res_p = np.concatenate([np.full(len(des_core_z), P_CORE), des_res_p])
o = np.argsort(res_p, kind='stable')
ax_res.vlines(res_z[o], (res_v - res_e)[o], (res_v + res_e)[o],
              colors=cmap(norm(res_p[o])), alpha=0.5, lw=2.2, zorder=1)
ax_res.scatter(res_z[o], res_v[o], c=res_p[o], cmap=cmap, norm=norm,
               s=90, alpha=0.9, lw=0, zorder=3)

ax_res.axhline(0, color='k', ls=':', lw=0.8, zorder=4)
ax_res.errorbar(cfa_bin_z, cfa_bin_res, yerr=cfa_bin_err, fmt='-o', color='k', mfc=ORANGE,
                mec='k', ms=8, mew=1.3, lw=1.2, elinewidth=1.3, capsize=0, zorder=6)
ax_res.errorbar(des_bin_z, des_bin_res, yerr=des_bin_err, fmt='-o', color='k', mfc=BLUE,
                mec='k', ms=8, mew=1.3, lw=1.2, elinewidth=1.3, capsize=0, zorder=6)

ax_res.set_xscale('log')
ax_res.set_xlim(0.023, 1.2)
ax_res.set_ylim(-0.6, 1.2)
ax_res.yaxis.set_major_locator(FixedLocator([0, 1]))
ax_res.yaxis.set_minor_locator(FixedLocator([-0.4, -0.2, 0.2, 0.4, 0.6, 0.8]))
ax_res.yaxis.set_major_formatter(FuncFormatter(lambda v, p: '%d' % v))
ax_res.xaxis.set_major_locator(FixedLocator([0.03, 0.1, 1]))
ax_res.xaxis.set_minor_locator(FixedLocator([0.04, 0.05, 0.06, 0.07, 0.08, 0.09,
                                             0.2, 0.3, 0.4, 0.5, 0.6, 0.7, 0.8, 0.9]))
ax_res.xaxis.set_major_formatter(FuncFormatter(lambda v, p: '%g' % v))
ax_res.xaxis.set_minor_formatter(NullFormatter())
ax_res.set_xlabel('Redshift', fontsize=23)
ax_res.set_ylabel('Residuals from\nbest fit wCDM', fontsize=17, linespacing=1.0)

for ax in (ax_mu, ax_res):
    ax.tick_params(which='major', direction='out', length=12, width=1.5, labelsize=18, pad=10)
    ax.tick_params(which='minor', direction='out', length=6.5, width=1.5)
    for s in ax.spines.values():
        s.set_linewidth(2)

# inset histogram
ax_in = ax_mu.inset_axes([0.687, 0.0408, 0.2999, 0.401])
ax_in.set_xscale('log')
widths = np.diff(hist_edges)
m = np.array(cfa_counts) > 0
ax_in.bar(hist_edges[:-1][m], np.array(cfa_counts)[m], width=widths[m], align='edge',
          color=ORANGE, alpha=0.9, edgecolor=ORANGE, lw=0.6)
m = np.array(des_counts) > 0
ax_in.bar(hist_edges[:-1][m], np.array(des_counts)[m], width=widths[m], align='edge',
          color=BLUE, alpha=0.6, edgecolor=BLUE, lw=0.8)
ax_in.set_xlim(0.023, 1.2)
ax_in.set_ylim(0, 331)
ax_in.yaxis.set_major_locator(FixedLocator([0, 200]))
ax_in.yaxis.set_minor_locator(MultipleLocator(50))
ax_in.xaxis.set_major_formatter(NullFormatter())
ax_in.xaxis.set_minor_formatter(NullFormatter())
ax_in.tick_params(which='major', direction='out', length=12, width=1.5, labelsize=18, pad=10)
ax_in.tick_params(which='minor', direction='out', length=6.5, width=1.5)
for s in ax_in.spines.values():
    s.set_linewidth(2)

# colorbar
cb = fig.colorbar(sc, cax=cax)
cb.outline.set_linewidth(2)
cb.set_ticks([0.0, 0.2, 0.4, 0.6, 0.8, 1.0])
cb.ax.yaxis.set_major_formatter(FormatStrFormatter('%.1f'))
cb.ax.yaxis.set_minor_locator(MultipleLocator(0.05))
cb.ax.tick_params(which='major', direction='out', length=12, width=1.5, labelsize=18, pad=10)
cb.ax.tick_params(which='minor', direction='out', length=6.5, width=1.5)
cb.set_label(r'$P_{Ia}$ from $\mathtt{SuperNNova}$', fontsize=17)

fig.savefig('out.png', dpi=100)
